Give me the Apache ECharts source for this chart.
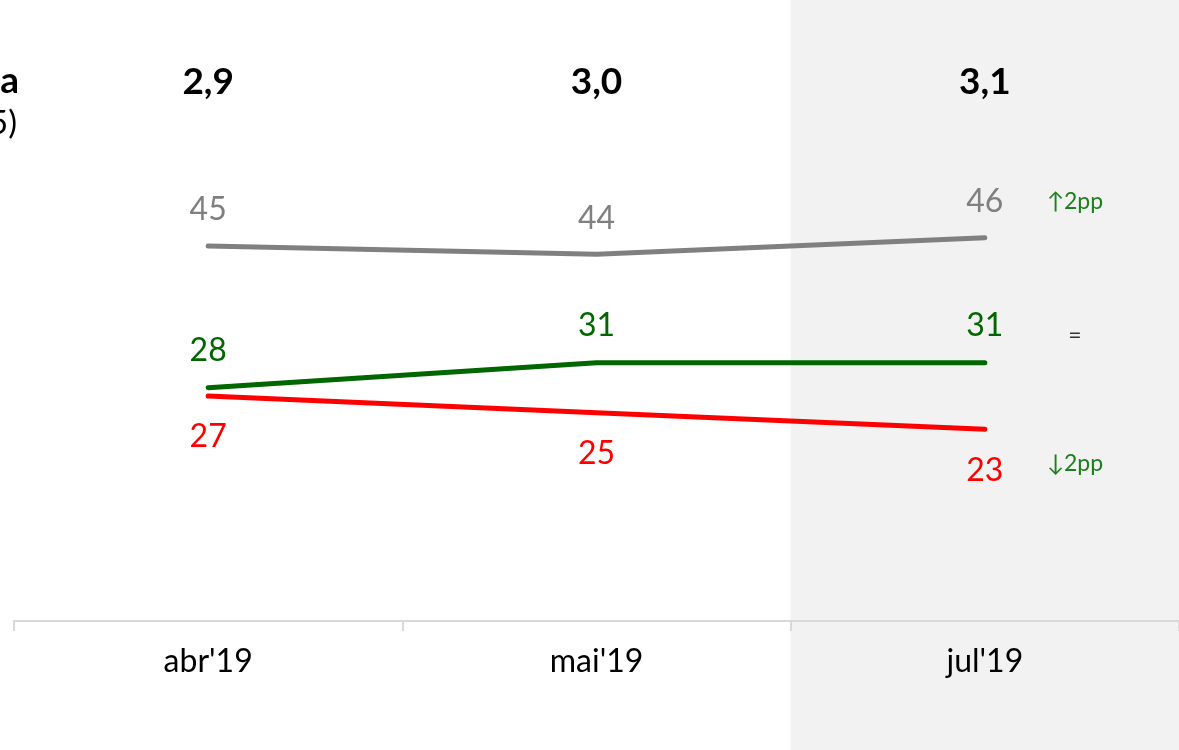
<!DOCTYPE html>
<html>
<head>
<meta charset="utf-8">
<script src="https://cdn.jsdelivr.net/npm/echarts@6/dist/echarts.min.js"></script>
<style>
  html, body { margin: 0; padding: 0; background: #fff; }
  #chart { width: 1179px; height: 750px; }
</style>
</head>
<body>
<div id="chart"></div>
<script>
// dados
const categories = ["abr'19", "mai'19", "jul'19"];
const averages = ['2,9', '3,0', '3,1'];
const grayValues = [45, 44, 46];
const greenValues = [28, 31, 31];
const redValues = [27, 25, 23];
const grayChange = '↑2pp';
const greenChange = '=';
const redChange = '↓2pp';
const highlighted = [null, null, 1];

const FONT = 'Lato';
const last = categories.length - 1;

// anotação à direita do último ponto
const changeMark = (values, text, dy, color) => ({
  symbol: 'circle',
  symbolSize: 1,
  itemStyle: { color: 'rgba(0,0,0,0)' },
  label: {
    show: true,
    position: 'inside',
    offset: [90, dy],
    formatter: text,
    fontFamily: FONT,
    fontSize: 23,
    color: color
  },
  data: [{ coord: [categories[last], values[last]] }]
});

const lineSeries = (name, values, color, labelPos, labelDist, mark) => ({
  name: name,
  type: 'line',
  xAxisIndex: 0,
  yAxisIndex: 0,
  z: 3,
  data: values,
  symbol: 'circle',
  symbolSize: 2,
  showSymbol: true,
  itemStyle: { color: color },
  lineStyle: { color: color, width: 5, cap: 'round' },
  label: {
    show: true,
    position: labelPos,
    distance: labelDist,
    fontFamily: FONT,
    fontSize: 32,
    color: color
  },
  markPoint: mark,
  animation: false
});

const chart = echarts.init(document.getElementById('chart'));
chart.setOption({
  animation: false,
  grid: [
    { left: 14, right: 0, top: 121, bottom: 129 },
    { left: 14, right: 0, top: 0, bottom: 0 }
  ],
  xAxis: [
    {
      gridIndex: 0,
      type: 'category',
      data: categories,
      position: 'bottom',
      z: 5,
      axisLine: { lineStyle: { color: '#d9d9d9', width: 2 } },
      axisTick: { show: true, length: 10, lineStyle: { color: '#d9d9d9', width: 2 } },
      axisLabel: { fontFamily: FONT, fontSize: 32, color: '#000', margin: 25 }
    },
    {
      gridIndex: 0,
      type: 'category',
      data: averages,
      position: 'top',
      axisLine: { show: false },
      axisTick: { show: false },
      axisLabel: { fontFamily: FONT, fontSize: 37, fontWeight: 'bold', color: '#000', margin: 20 }
    },
    {
      gridIndex: 1,
      type: 'category',
      data: categories,
      show: false
    }
  ],
  yAxis: [
    { gridIndex: 0, type: 'value', min: 0, max: 60, show: false },
    { gridIndex: 1, type: 'value', min: 0, max: 1, show: false }
  ],
  graphic: [
    {
      type: 'text',
      right: 1179 - 19,
      top: 63,
      style: { text: 'Nota média', font: 'bold 37px ' + FONT, fill: '#000', textAlign: 'right' }
    },
    {
      type: 'text',
      right: 1179 - 17,
      top: 107,
      style: { text: '(escala de 1 a 5)', font: '33px ' + FONT, fill: '#000', textAlign: 'right' }
    }
  ],
  series: [
    {
      type: 'bar',
      xAxisIndex: 2,
      yAxisIndex: 1,
      z: 0,
      silent: true,
      data: highlighted,
      barWidth: '100%',
      itemStyle: { color: '#f2f2f2' }
    },
    lineSeries('cinza', grayValues, '#808080', 'top', 19, changeMark(grayValues, grayChange, -36, '#1e7e1e')),
    lineSeries('verde', greenValues, '#006600', 'top', 20, changeMark(greenValues, greenChange, -27, '#333333')),
    lineSeries('vermelho', redValues, '#ff0000', 'bottom', 24, changeMark(redValues, redChange, 34, '#1e7e1e'))
  ]
});
</script>
</body>
</html>
